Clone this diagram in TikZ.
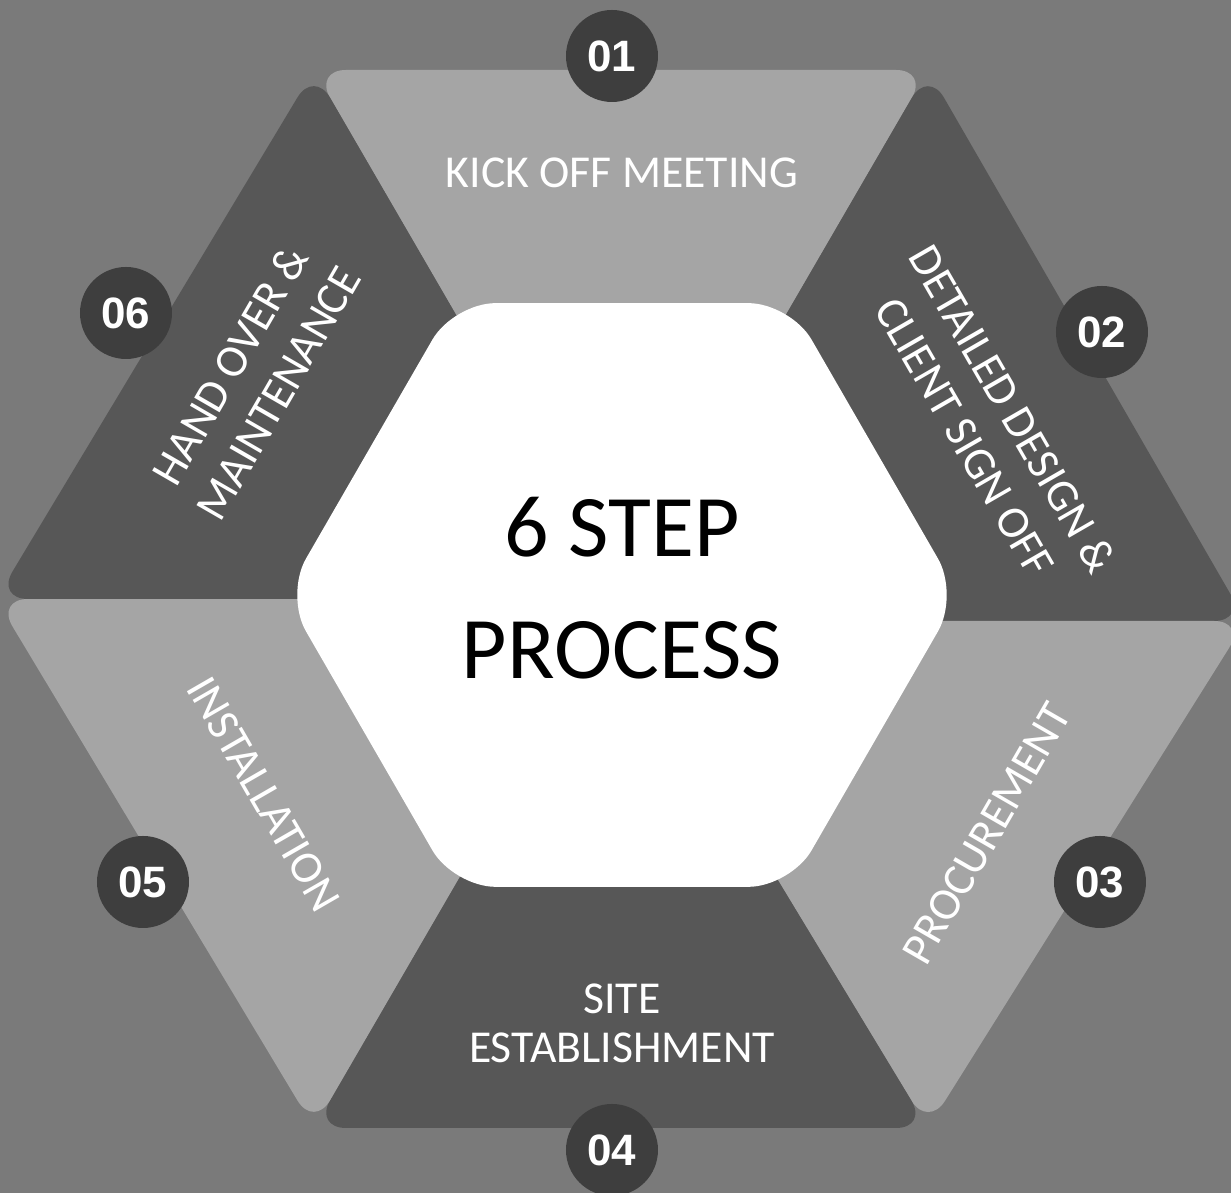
\documentclass[tikz,border=0pt]{standalone}
\usepackage{fontspec}
\setmainfont{Carlito}
\newfontfamily\numfont{Liberation Sans}
\usepackage{tikz}

\definecolor{bggrey}{RGB}{122,122,122}
\definecolor{lightseg}{RGB}{165,165,165}
\definecolor{darkseg}{RGB}{87,87,87}
\definecolor{numdisc}{RGB}{62,62,62}

\begin{document}
\begin{tikzpicture}[
        seg/.style={rounded corners=0.32cm},
        steplabel/.style={text=white, align=center, font=\fontsize{13}{14}\selectfont},
        slantlabel/.style={steplabel, font=\fontsize{13}{15.8}\selectfont},
        stepnum/.style={circle, fill=numdisc, minimum size=0.92cm, inner sep=0pt,
            text=white, font=\numfont\bfseries\fontsize{12.5}{12.5}\selectfont}
    ]

            %background
            \fill[bggrey] (-6.21,-5.94) rectangle (6.10,5.99);
            \useasboundingbox (-6.21,-5.94) rectangle (6.10,5.99);

            %outer corners
            \coordinate (vtr) at (3.07,5.29);
            \coordinate (vtl) at (-3.07,5.29);
            \coordinate (vl) at (-6.25,0);
            \coordinate (vbl) at (-3.07,-5.29);
            \coordinate (vbr) at (3.07,-5.29);
            \coordinate (vr) at (6.25,-0.22);

            %segments
            \fill[lightseg, seg] (0,0) -- (vtl) -- (vtr) -- cycle;
            \fill[darkseg, seg] (0,0) -- (vtr) -- (vr) -- (0,-0.22) -- cycle;
            \fill[lightseg, seg] (0,-0.22) -- (vr) -- (vbr) -- cycle;
            \fill[darkseg, seg] (0,-0.22) -- (vbr) -- (vbl) -- (0,0) -- cycle;
            \fill[lightseg, seg] (0,0) -- (vbl) -- (vl) -- cycle;
            \fill[darkseg, seg] (0,0) -- (vl) -- (vtl) -- cycle;

            %centre
            \begin{scope}[shift={(0.01,0.04)}]
                \fill[white, rounded corners=0.42cm] (0:3.37) -- (60:3.37) -- (120:3.37)
                    -- (180:3.37) -- (240:3.37) -- (300:3.37) -- cycle;
            \end{scope}
            \node[align=center, font=\fontsize{25}{34.7}\selectfont] (title) at (0.01,0.11) {6 STEP\\PROCESS};

            %labels
            \node[steplabel] (kickoff) at (0.01,4.26) {KICK OFF MEETING};
            \node[slantlabel, rotate=-60] (design) at (3.68,1.76) {DETAILED DESIGN \&\\CLIENT SIGN OFF};
            \node[steplabel, rotate=60] (procure) at (3.655,-2.345) {PROCUREMENT};
            \node[steplabel] (site) at (0.01,-4.245) {SITE\\ESTABLISHMENT};
            \node[steplabel, rotate=-60] (install) at (-3.575,-1.95) {INSTALLATION};
            \node[slantlabel, rotate=60] (handover) at (-3.67,2.2) {HAND OVER \&\\MAINTENANCE};

            %numbers
            \node[stepnum] (n01) at (-0.09,5.43) {01};
            \node[stepnum] (n02) at (4.81,2.67) {02};
            \node[stepnum] (n03) at (4.79,-2.83) {03};
            \node[stepnum] (n04) at (-0.09,-5.51) {04};
            \node[stepnum] (n05) at (-4.78,-2.83) {05};
            \node[stepnum] (n06) at (-4.95,2.86) {06};
        \end{tikzpicture}
\end{document}
